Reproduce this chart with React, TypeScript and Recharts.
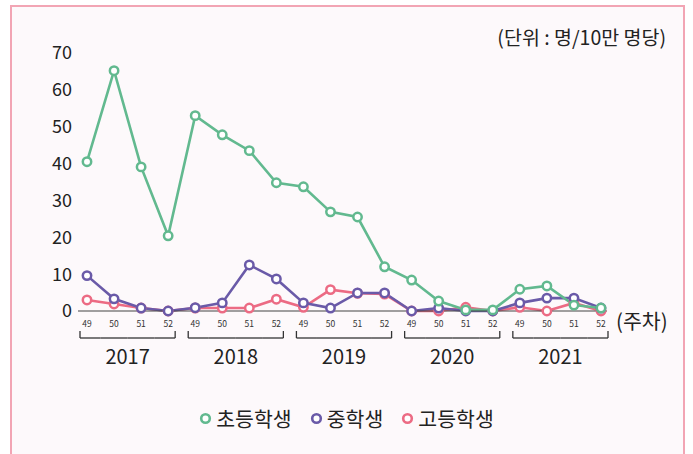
import React from 'react'
import { LineChart, Line, XAxis, YAxis } from 'recharts'

const years = ['2017', '2018', '2019', '2020', '2021']
const weeks = ['49', '50', '51', '52']
const elementary = [40.5, 65.2, 39.1, 20.4, 53, 47.8, 43.5, 34.8, 33.7, 26.9, 25.5, 12, 8.4, 2.7, 0.3, 0.3, 5.9, 6.8, 1.6, 0.8]
const middle = [9.6, 3.3, 0.8, 0, 0.9, 2.2, 12.5, 8.7, 2.2, 0.8, 4.9, 4.9, 0, 0.8, 0, 0, 2.2, 3.5, 3.5, 0.8]
const high = [3, 1.9, 0.8, 0, 0.8, 0.8, 0.8, 3.2, 1, 5.8, 4.8, 4.6, 0, 0, 1, 0, 1, 0, 2.2, 0]
const yTicks = [0, 10, 20, 30, 40, 50, 60, 70]

const series = [
  { key: 'elementary', name: '초등학생', color: '#62b98f' },
  { key: 'middle', name: '중학생', color: '#6a5aa8' },
  { key: 'high', name: '고등학생', color: '#ec6b84' },
]

const W = 693
const H = 454
const M = { top: 53, right: 86, left: 38, bottom: 83 }
const Y_W = 40
const X_H = 60
const PAD = { left: 9, right: 6 }
const plotW = W - M.left - Y_W - M.right
const HALF = (plotW - PAD.left - PAD.right) / (years.length * weeks.length - 1) / 2

const data = years.flatMap((yr, yi) =>
  weeks.map((wk, wi) => {
    const i = yi * weeks.length + wi
    return { cat: `${yr}-${wk}`, elementary: elementary[i], middle: middle[i], high: high[i] }
  })
)

const FONT = '"Noto Sans CJK KR", "Noto Sans", sans-serif'

function WeekTick(props: any) {
  const { x, y, payload } = props
  const [yr, wk] = String(payload.value).split('-')
  const wi = weeks.indexOf(wk)
  const first = wi === 0
  const last = wi === weeks.length - 1
  const x1 = first ? x - 7 : x - HALF
  const x2 = last ? x + 7 : x + HALF
  const by = y + 27
  return (
    <g>
      <text x={x} y={y + 16} textAnchor="middle" fontSize={8.5} fill="#333" fontFamily={FONT}>{wk}</text>
      <line x1={x1} x2={x2} y1={by} y2={by} stroke="#333" strokeWidth={1.3} />
      {first && <line x1={x1} x2={x1} y1={y + 20} y2={by} stroke="#333" strokeWidth={1.3} />}
      {last && <line x1={x2} x2={x2} y1={y + 20} y2={by} stroke="#333" strokeWidth={1.3} />}
      {wi === 1 && (
        <text x={x + HALF} y={y + 53} textAnchor="middle" fontSize={20} fill="#222" fontFamily={FONT}>{yr}</text>
      )}
    </g>
  )
}

function LegendRow() {
  return (
    <div style={{ position: 'absolute', left: 0, top: 403, width: W, display: 'flex', justifyContent: 'center', alignItems: 'center', gap: 18, fontFamily: FONT, fontSize: 20.5, color: '#222' }}>
      {series.map((s) => (
        <span key={s.key} style={{ display: 'inline-flex', alignItems: 'center', gap: 4 }}>
          <svg width={13} height={13}>
            <circle cx={6.5} cy={6.5} r={4.3} fill="#fff" stroke={s.color} strokeWidth={2.6} />
          </svg>
          {s.name}
        </span>
      ))}
    </div>
  )
}

export default function App() {
  // green is drawn last so it sits on top, as in the original
  const drawOrder = [...series].reverse()
  return (
    <div style={{ position: 'fixed', left: 0, top: 0, width: W, height: H, background: '#fff', overflow: 'hidden' }}>
      <div
        style={{
          position: 'absolute', left: 10, top: 5, width: 671, height: 470,
          border: '2px solid #f2a5b4', borderBottom: 'none', background: '#fdf9fb',
        }}
      />
      <div style={{ position: 'absolute', right: 27, top: 22, fontFamily: FONT, fontSize: 19.5, color: '#222', whiteSpace: 'nowrap' }}>
        (단위 : 명/10만 명당)
      </div>
      <div style={{ position: 'absolute', left: 616, top: 305, fontFamily: FONT, fontSize: 20.5, color: '#222' }}>
        (주차)
      </div>
      <div style={{ position: 'absolute', left: 0, top: 0 }}>
        <LineChart width={W} height={H} data={data} margin={M}>
          <XAxis
            dataKey="cat"
            interval={0}
            tickLine={false}
            tickSize={0}
            tickMargin={0}
            height={X_H}
            padding={PAD}
            axisLine={{ stroke: '#444', strokeWidth: 1.2 }}
            tick={<WeekTick />}
          />
          <YAxis
            domain={[0, 70]}
            ticks={yTicks}
            width={Y_W}
            axisLine={false}
            tickLine={false}
            tickSize={4}
            tick={{ fontSize: 18, fill: '#222', fontFamily: FONT }}
          />
          {drawOrder.map((s) => (
            <Line
              key={s.key}
              dataKey={s.key}
              name={s.name}
              stroke={s.color}
              strokeWidth={2.6}
              dot={{ r: 4.2, fill: '#fff', stroke: s.color, strokeWidth: 2.5 }}
              isAnimationActive={false}
            />
          ))}
        </LineChart>
      </div>
      <LegendRow />
    </div>
  )
}
